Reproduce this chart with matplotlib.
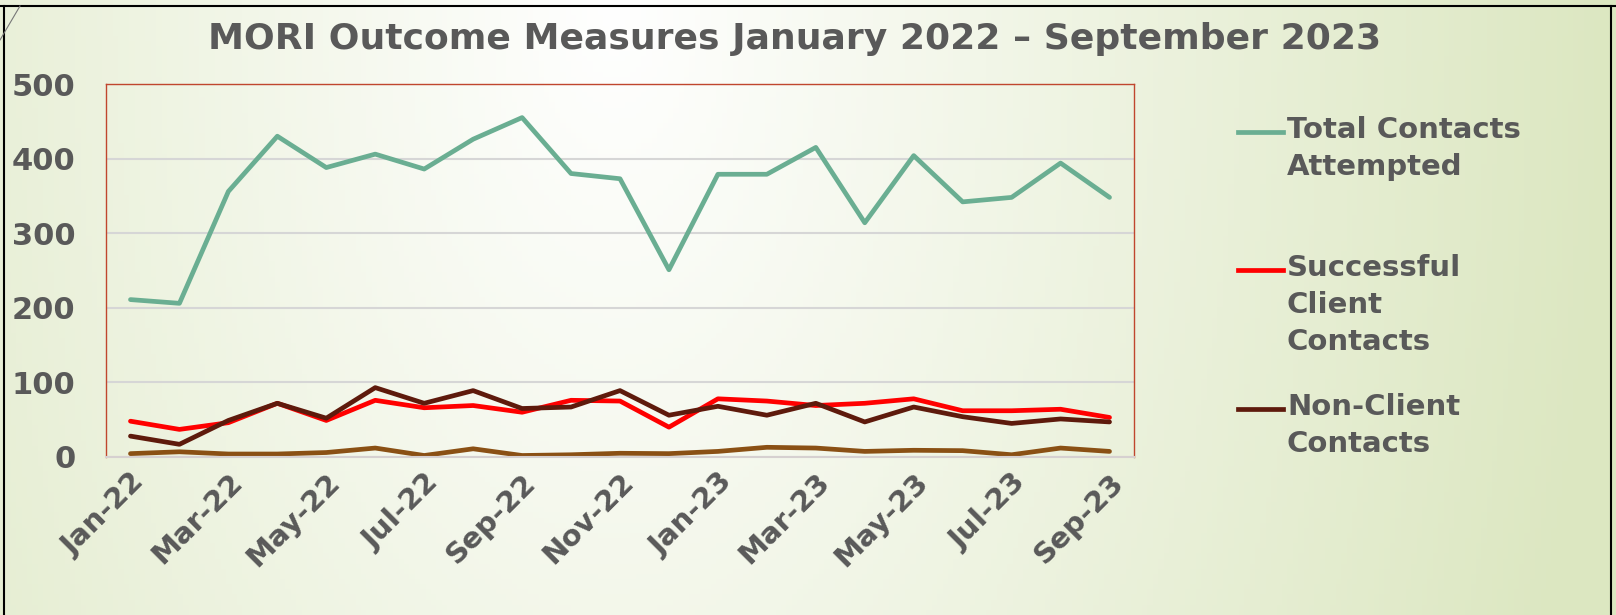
import numpy as np
import matplotlib.pyplot as plt
from matplotlib.lines import Line2D

months = ['Jan-22', 'Feb-22', 'Mar-22', 'Apr-22', 'May-22', 'Jun-22', 'Jul-22',
          'Aug-22', 'Sep-22', 'Oct-22', 'Nov-22', 'Dec-22', 'Jan-23', 'Feb-23',
          'Mar-23', 'Apr-23', 'May-23', 'Jun-23', 'Jul-23', 'Aug-23', 'Sep-23']
total_attempted = [211, 206, 356, 430, 388, 406, 386, 426, 455, 380, 373,
                   251, 379, 379, 415, 314, 404, 342, 348, 394, 348]
successful_client = [48, 37, 46, 72, 49, 76, 66, 69, 60, 76, 75,
                     40, 78, 75, 69, 72, 78, 62, 62, 64, 53]
non_client = [28, 17, 49, 72, 52, 93, 72, 89, 65, 67, 89,
              56, 68, 56, 72, 47, 67, 54, 45, 51, 47]
other_contacts = [4.5, 7, 4, 4, 6, 12, 2, 11, 2, 3, 5,
                  4.5, 7.5, 13, 12, 7.5, 9, 8.5, 3, 12, 7.5]

labels = ['Total Contacts\nAttempted', 'Successful\nClient\nContacts',
          'Non-Client\nContacts']
colors = ['#6aae92', '#ff0000', '#5e1a0c', '#8a5014']
title = 'MORI Outcome Measures January 2022 \u2013 September 2023'

W, H = 1616, 615
fig = plt.figure(figsize=(W / 100, H / 100), dpi=100)

# slide background: white near top centre, pale green towards the edges
bg = fig.add_axes([0, 0, 1, 1], zorder=-10)
gx, gy = np.meshgrid(np.linspace(0, 1, 300), np.linspace(1, 0, 120))
d = np.sqrt(((gx - 0.38) / 0.62) ** 2 + ((1 - gy) / 3.0) ** 2)
t = np.clip(d, 0, 1)[..., None]
c0 = np.array([1.0, 1.0, 1.0])
c1 = np.array([220, 231, 193]) / 255
img = c0 * (1 - t) + c1 * t
bg.imshow(img, aspect='auto', extent=[0, 1, 0, 1], origin='upper')
bg.set_xlim(0, 1)
bg.set_ylim(0, 1)
bg.axis('off')

ax = fig.add_axes([106 / W, 1 - 457 / H, (1134 - 106) / W, (457 - 84) / H])
ax.set_facecolor('none')
x = np.arange(len(months))
ax.plot(x, total_attempted, color=colors[0], lw=3.4, solid_capstyle='round')
ax.plot(x, successful_client, color=colors[1], lw=3.4, solid_capstyle='round')
ax.plot(x, non_client, color=colors[2], lw=3.4, solid_capstyle='round')
ax.plot(x, other_contacts, color=colors[3], lw=3.4, solid_capstyle='round')

ax.set_xlim(-0.5, len(months) - 0.5)
ax.set_ylim(0, 500)
ax.set_yticks(range(0, 501, 100))
ax.yaxis.grid(True, color='#d6d6d6', lw=1.5)
ax.set_axisbelow(True)
ax.set_xticks(x[::2])
ax.set_xticklabels(months[::2], rotation=45, ha='right', rotation_mode='anchor')
ax.tick_params(axis='y', length=0, pad=22, labelsize=22, labelcolor='#595959')
ax.tick_params(axis='x', length=0, pad=8, labelsize=21, labelcolor='#595959')
for lab in ax.get_xticklabels() + ax.get_yticklabels():
    lab.set_fontweight('bold')
for s in ['left', 'top', 'right']:
    ax.spines[s].set_color('#c0462e')
    ax.spines[s].set_linewidth(1)
ax.spines['bottom'].set_color('#d6d0d0')
ax.spines['bottom'].set_linewidth(1.5)

fig.text(795 / W, 1 - 39 / H, title, ha='center', va='center', fontsize=26,
         fontweight='bold', color='#595959')

# legend, handle level with first text line
leg_y = [132, 270, 409]
for lab, col, yy in zip(labels, colors, leg_y):
    fy = 1 - yy / H
    fig.add_artist(Line2D([1238 / W, 1283 / W], [fy, fy], color=col, lw=3.4,
                          transform=fig.transFigure))
    fig.text(1287 / W, fy + 16 / H, lab, ha='left', va='top', fontsize=21,
             fontweight='bold', color='#595959', linespacing=1.4)

# slide frame lines
fig.add_artist(Line2D([0, 1], [1 - 6 / H, 1 - 6 / H], color='black', lw=1.5,
                      transform=fig.transFigure))
fig.add_artist(Line2D([4 / W, 4 / W], [0, 1 - 6 / H], color='black', lw=1.5,
                      transform=fig.transFigure))
fig.add_artist(Line2D([1611 / W, 1611 / W], [0, 1 - 6 / H], color='black', lw=1.5,
                      transform=fig.transFigure))
fig.add_artist(Line2D([0, 20 / W], [1 - 40 / H, 1 - 6 / H], color='#777777', lw=0.8,
                      transform=fig.transFigure))

fig.savefig('out.png', dpi=100)
